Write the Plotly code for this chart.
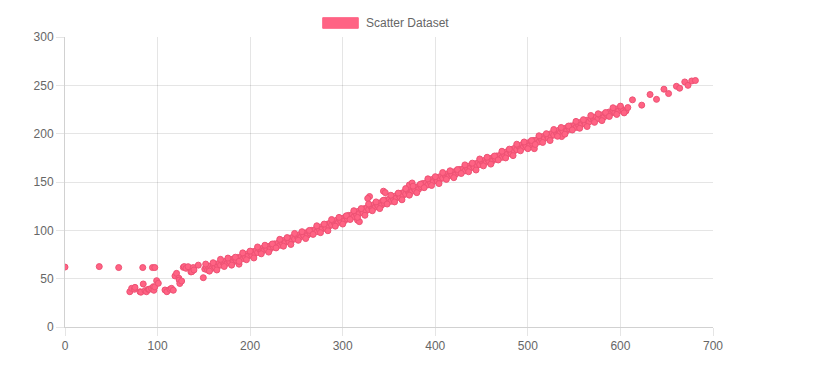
import plotly.graph_objects as go

# ---- data ----
left_x = [0, 37, 58, 84, 94.5, 97, 70, 72, 75, 75.6, 81, 82, 84.5, 86.4, 88, 90, 91, 93.5, 95.4, 96, 97,
          99, 100.8, 108, 110, 113.4, 115, 117, 118.8, 120.5, 123, 123.4, 124, 126, 127.8, 128.8, 130.7,
          133, 136, 137, 138.6, 139.3, 144, 149.4]
left_y = [62, 62.5, 61.5, 61.5, 61.5, 61.5, 36.5, 40, 39, 41, 36.5, 36, 44.5, 37.6, 36.5, 39, 39, 40, 41.7, 38, 41.5,
          47.9, 45.2, 38.3, 36.5, 39, 40, 38, 52.8, 55.5, 50.5, 48.6, 45, 47.5, 61.7, 62.5, 60.7,
          62.4, 57, 57.2, 61.5, 59, 64, 51]

band_x = [151, 152.5, 154, 155.5, 157, 158.5,
          160.5, 162, 163.5, 165, 166.5, 168,
          170.5, 172, 173.5, 175, 176.5, 178,
          180.5, 182, 183.5, 185, 186.5, 188, 188,
          190.5, 192, 193.5, 195, 196.5, 198,
          200.5, 202, 203.5, 205, 206.5, 208,
          210.5, 212, 213.5, 215, 216.5, 218,
          220.5, 222, 223.5, 225, 226.5, 228,
          230.5, 232, 233.5, 235, 236.5, 238,
          240.5, 242, 243.5, 245, 246.5, 248,
          250.5, 252, 253.5, 255, 256.5, 258,
          260.5, 262, 263.5, 265, 266.5, 268,
          270.5, 272, 273.5, 275, 276.5, 278,
          280.5, 282, 283.5, 285, 286.5, 288,
          290.5, 292, 293.5, 295, 296.5, 298,
          300.5, 302, 303.5, 305, 306.5, 308,
          310.5, 312, 313.5, 315, 316.5, 318, 316, 318,
          320.5, 322, 323.5, 325, 326.5, 328, 329, 327,
          330.5, 332, 333.5, 335, 336.5, 338,
          340.5, 342, 343.5, 345, 346.5, 348, 344, 346,
          350.5, 352, 353.5, 355, 356.5, 358,
          360.5, 362, 363.5, 365, 366.5, 368,
          370.5, 372, 373.5, 375, 376.5, 378, 372, 375,
          380.5, 382, 383.5, 385, 386.5, 388,
          390.5, 392, 393.5, 395, 396.5, 398,
          400.5, 402, 403.5, 405, 406.5, 408,
          410.5, 412, 413.5, 415, 416.5, 418,
          420.5, 422, 423.5, 425, 426.5, 428,
          430.5, 432, 433.5, 435, 436.5, 438,
          440.5, 442, 443.5, 445, 446.5, 448,
          450.5, 452, 453.5, 455, 456.5, 458,
          460.5, 462, 463.5, 465, 466.5, 468,
          470.5, 472, 473.5, 475, 476.5, 478,
          480.5, 482, 483.5, 485, 486.5, 488,
          490.5, 492, 493.5, 495, 496.5, 498,
          500.5, 502, 503.5, 505, 506.5, 508, 507,
          510.5, 512, 513.5, 515, 516.5, 518,
          520.5, 522, 523.5, 525, 526.5, 528,
          530.5, 532, 533.5, 535, 536.5, 538, 536.5,
          540.5, 542, 543.5, 545, 546.5, 548,
          550.5, 552, 553.5, 555, 556.5, 558,
          560.5, 562, 564, 566, 568,
          570.5, 572, 574, 576, 578,
          580.5, 582, 584, 586, 588,
          590.5, 592, 594, 596, 598,
          601, 603, 606, 608]
band_y = [60, 62, 59, 61.5, 63, 60.5,
          64, 62, 65, 63.5, 66, 64,
          67, 64.5, 68, 66, 69, 67.5,
          70, 67.5, 71, 69, 72, 70.5, 65,
          73, 70.5, 74, 72, 75.5, 73.5,
          76.5, 74, 78, 76, 79, 77,
          80, 77.5, 81.5, 79.5, 82.5, 80.5,
          83.5, 81, 85, 83, 86, 84,
          87, 84.5, 88, 86.5, 89.5, 87.5,
          90.5, 88, 92, 90, 93, 91,
          94, 91.5, 95.5, 93.5, 96.5, 94.5,
          97.5, 95, 99, 97, 100, 98,
          101, 98.5, 102.5, 100.5, 103.5, 101.5,
          104.5, 102, 106.5, 104, 107.5, 105.5,
          108.5, 106, 110.5, 108, 111.5, 109.5,
          112.5, 110, 114.5, 112, 115.5, 113.5,
          116.5, 114, 118.5, 116, 119.5, 117.5, 110.5, 109,
          120.5, 118, 122.5, 120, 123.5, 121.5, 135, 133,
          124.5, 122, 126.5, 124, 127.5, 125.5,
          128.5, 126, 130.5, 128, 131.5, 129.5, 140.5, 139,
          132.5, 130, 134.5, 132, 135.5, 133.5,
          136.5, 134, 138.5, 136, 139.5, 137.5,
          140.5, 138, 142.5, 140.5, 144, 142, 147, 149,
          145, 142.5, 147, 145, 148.5, 146.5,
          149.5, 147, 151.5, 149, 152.5, 150.5,
          153.5, 151, 155, 153, 156, 154,
          157, 154.5, 158.5, 156.5, 159.5, 157.5,
          160.5, 158, 162, 160, 163, 161,
          164, 161.5, 165.5, 163.5, 166.5, 164.5,
          167.5, 165, 169, 167, 170, 168,
          171, 168.5, 172.5, 170.5, 173.5, 171.5,
          174.5, 172, 176, 174, 177, 175,
          178, 175.5, 179.5, 177.5, 181, 179,
          182, 179.5, 184, 182, 185.5, 183.5,
          186.5, 184, 188.5, 186, 189.5, 187.5,
          190.5, 188, 192, 190, 193, 191, 184.5,
          194, 191.5, 195.5, 193.5, 197, 195,
          198, 195.5, 199.5, 197.5, 200.5, 198.5,
          201.5, 199, 203.5, 201, 204.5, 202.5, 197,
          205.5, 203, 207, 205, 208, 206,
          209, 206.5, 210.5, 208.5, 211.5, 209.5,
          212.5, 210, 214, 212, 215.5,
          216, 213.5, 217.5, 215.5, 219,
          219.5, 217, 221, 219, 222.5,
          221.5, 224, 222, 225.5, 223.5,
          226, 224, 223.5, 227]

# looser points around the band (read as the band's ragged edges)
edge_x = [152, 156, 160, 164, 168, 172, 176, 180, 184, 188, 192, 196, 200, 204, 208, 212, 216, 220,
          224, 228, 232, 236, 240, 244, 248, 252, 256, 260, 264, 268, 272, 276, 280, 284, 288, 292,
          296, 300, 304, 308, 312, 316, 320, 324, 328, 332, 336, 340, 344, 348, 352, 356, 360, 364,
          368, 372, 376, 380, 384, 388, 392, 396, 400, 404, 408, 412, 416, 420, 424, 428, 432, 436,
          440, 444, 448, 452, 456, 460, 464, 468, 472, 476, 480, 484, 488, 492, 496, 500, 504, 508,
          512, 516, 520, 524, 528, 532, 536, 540, 544, 548, 552, 556, 560, 564, 568, 572, 576, 580,
          584, 588, 592, 596, 600, 604]
edge_y = [65.1, 57.8, 66.5, 59, 70, 62.6, 71.3, 64, 72.2, 67.9, 76.7, 69.6, 78.5, 71.4, 82.8, 75.7,
          84.6, 77.5, 85.9, 81.8, 90.7, 83.6, 92.5, 85.4, 96.8, 89.7, 98.6, 91.5, 99.9, 95.8, 104.7,
          97.6, 106.5, 99.6, 111.2, 104.3, 113.4, 106.5, 115.1, 111.2, 120.3, 113.4, 122.5, 115.6,
          127.2, 120.3, 129.4, 122.5, 131.1, 127.2, 136.3, 129.4, 138.5, 131.6, 143.2, 136.4, 145.7,
          139, 147.8, 144.1, 153.3, 146.4, 155.5, 148.4, 159.8, 152.7, 161.6, 154.5, 162.9, 158.8,
          167.7, 160.6, 169.5, 162.4, 173.8, 166.7, 175.6, 168.5, 176.9, 172.8, 181.8, 174.9, 184,
          177.3, 189.1, 182.3, 191.4, 184.5, 192.9, 188.8, 197.8, 190.9, 200, 192.9, 204.3, 197.3,
          206.4, 199.5, 207.9, 203.8, 212.7, 205.6, 214.5, 207.4, 218.8, 211.7, 220.6, 213.5, 221.9,
          217.8, 226.8, 219.9, 228.5, 221.5]

right_x = [613, 623, 632, 639, 647, 652, 660.5, 664, 669.5, 673, 677, 681]
right_y = [235, 229.5, 240.5, 235.5, 246, 241.5, 249, 247, 253.5, 250, 254.5, 255]

xs = left_x + band_x + edge_x + right_x
ys = left_y + band_y + edge_y + right_y

x_ticks = [0, 100, 200, 300, 400, 500, 600, 700]
y_ticks = [0, 50, 100, 150, 200, 250, 300]

PINK = "rgb(255,99,132)"
FONT = "Liberation Sans, Arial, sans-serif"

fig = go.Figure()
fig.add_trace(go.Scatter(
    x=xs, y=ys, mode="markers", name="Scatter Dataset",
    marker=dict(size=6, color=PINK, line=dict(color="rgb(238,82,116)", width=1)),
    showlegend=False,
))

axis_common = dict(
    showgrid=True, gridcolor="rgba(0,0,0,0.1)", gridwidth=1,
    ticks="outside", ticklen=8, tickcolor="rgba(0,0,0,0.1)", tickwidth=1,
    showline=True, linecolor="rgba(0,0,0,0.18)", linewidth=1,
    zeroline=False, tickfont=dict(family=FONT, size=12, color="#666"),
)
fig.update_xaxes(range=[0, 700], tickvals=x_ticks, ticktext=[str(v) for v in x_ticks], **axis_common)
fig.update_yaxes(range=[0, 300], tickvals=y_ticks, ticktext=[str(v) for v in y_ticks], **axis_common)

# legend drawn like the reference (wide box + label)
fig.add_shape(type="rect", xref="paper", yref="paper",
              x0=0.3977, x1=0.4526, y0=1.030, y1=1.0666,
              fillcolor=PINK, line=dict(color="rgb(255,99,132)", width=1))
fig.add_annotation(xref="paper", yref="paper", x=0.4614, y=1.049,
                   text="Scatter Dataset", showarrow=False, xanchor="left", yanchor="middle",
                   font=dict(family=FONT, size=12, color="#666"))

fig.update_layout(
    width=836, height=379,
    margin=dict(l=65, r=123, t=37, b=52),
    plot_bgcolor="white", paper_bgcolor="white",
    showlegend=False,
)
fig.write_html("out.html")
